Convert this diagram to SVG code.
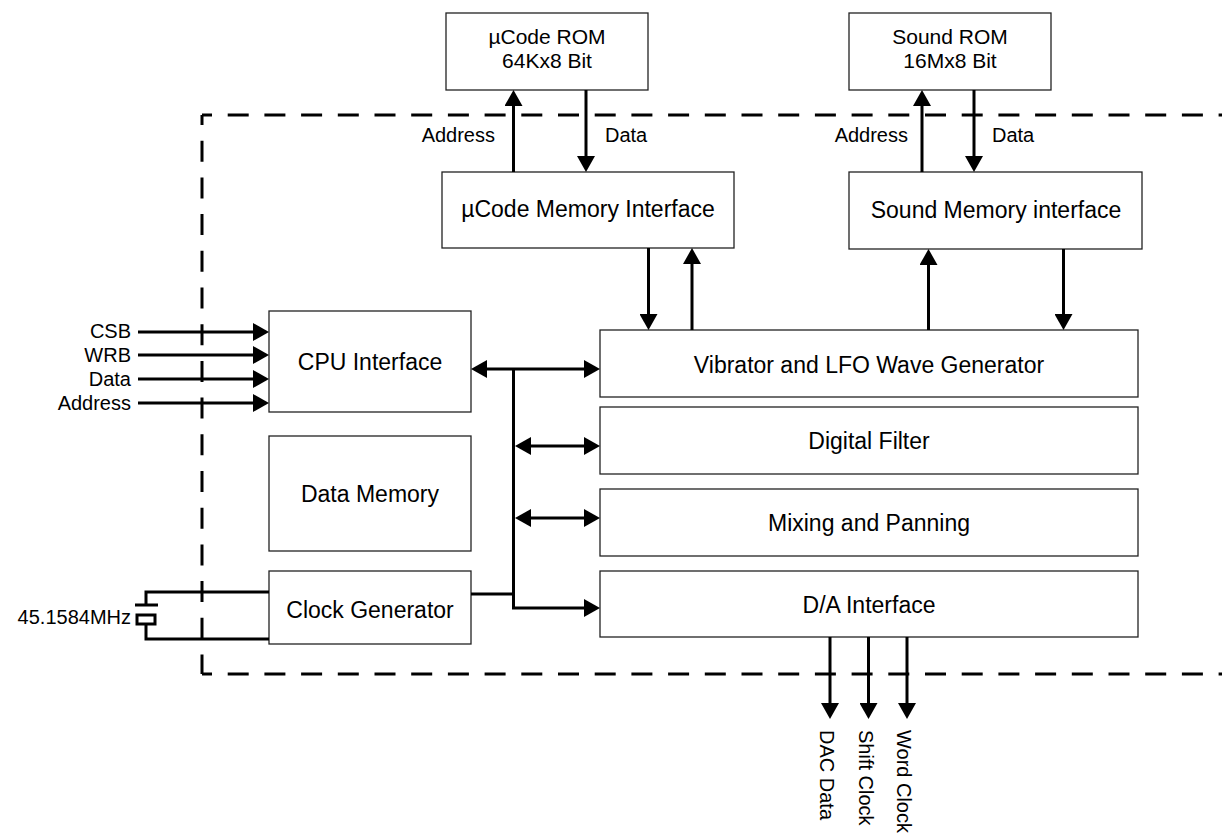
<svg xmlns="http://www.w3.org/2000/svg" width="1222" height="835" viewBox="0 0 1222 835">
<style>
.box{fill:#fff;stroke:#222;stroke-width:1.3}
.t{font-family:"Liberation Sans",Arial,sans-serif;font-size:23px;fill:#000;text-anchor:middle}
.r{font-family:"Liberation Sans",Arial,sans-serif;font-size:21px;fill:#000;text-anchor:middle}
.s{font-family:"Liberation Sans",Arial,sans-serif;font-size:20px;fill:#000}
.w{fill:none;stroke:#000;stroke-width:3}
.a{fill:none;stroke:#000;stroke-width:3;marker-end:url(#ah)}
.d{fill:none;stroke:#000;stroke-width:3;marker-end:url(#ah);marker-start:url(#ah)}
.dash{fill:none;stroke:#000;stroke-width:3;stroke-dasharray:21 15.7;stroke-dashoffset:11}
</style>
<defs>
<marker id="ah" viewBox="0 0 16 18" refX="0" refY="9" markerWidth="16" markerHeight="18" markerUnits="userSpaceOnUse" orient="auto-start-reverse">
<path d="M0,0 L16,9 L0,18 z" fill="#000"/>
</marker>
</defs>
<rect width="1222" height="835" fill="#fff"/>
<g id="boundary">
<path class="dash" d="M202,115 H1222"/>
<path class="dash" d="M202,115 V674"/>
<path class="dash" d="M202,674 H1222"/>
</g>
<g id="ucode-rom"><rect class="box" x="446" y="13" width="202" height="77"/><text class="r" x="547" y="44">µCode ROM</text><text class="r" x="547" y="68">64Kx8 Bit</text></g>
<g id="sound-rom"><rect class="box" x="849" y="13" width="202" height="77"/><text class="r" x="950" y="44">Sound ROM</text><text class="r" x="950" y="68">16Mx8 Bit</text></g>
<g id="ucode-mem-if"><rect class="box" x="442" y="172" width="292" height="76"/><text class="t" x="588" y="217">µCode Memory Interface</text></g>
<g id="sound-mem-if"><rect class="box" x="849" y="172" width="293" height="77"/><text class="t" x="996" y="218">Sound Memory interface</text></g>
<g id="cpu-if"><rect class="box" x="269" y="311" width="202" height="101"/><text class="t" x="370" y="370">CPU Interface</text></g>
<g id="data-mem"><rect class="box" x="269" y="436" width="202" height="115"/><text class="t" x="370" y="502">Data Memory</text></g>
<g id="clock-gen"><rect class="box" x="269" y="571" width="202" height="73"/><text class="t" x="370" y="618">Clock Generator</text></g>
<g id="vibrator"><rect class="box" x="600" y="330" width="538" height="67"/><text class="t" x="869" y="373">Vibrator and LFO Wave Generator</text></g>
<g id="digital-filter"><rect class="box" x="600" y="407" width="538" height="67"/><text class="t" x="869" y="449">Digital Filter</text></g>
<g id="mixing"><rect class="box" x="600" y="489" width="538" height="67"/><text class="t" x="869" y="531">Mixing and Panning</text></g>
<g id="da-if"><rect class="box" x="600" y="571" width="538" height="66"/><text class="t" x="869" y="613">D/A Interface</text></g>
<g id="crystal">
<path class="w" d="M269,592 H146 V605 M135,605 H158 M146,624 V639 H269"/>
<rect x="137" y="615" width="18" height="9" fill="#fff" stroke="#000" stroke-width="3"/>
<text class="s" x="131" y="624" text-anchor="end">45.1584MHz</text>
</g>
<g id="connectors">
<path class="a" d="M138,332 H253"/>
<path class="a" d="M138,355 H253"/>
<path class="a" d="M138,379 H253"/>
<path class="a" d="M138,403 H253"/>
<path class="d" d="M487,369 H584"/>
<path class="a" d="M513.5,369 V608 H584"/>
<path class="w" d="M471,594 H513.5"/>
<path class="d" d="M531,446 H584"/>
<path class="d" d="M531,518 H584"/>
<path class="a" d="M513.5,172 V106"/>
<path class="a" d="M586,90 V156"/>
<path class="a" d="M648.5,248 V314"/>
<path class="a" d="M692,330 V264"/>
<path class="a" d="M922,172 V106"/>
<path class="a" d="M974,90 V156"/>
<path class="a" d="M928.5,330 V265"/>
<path class="a" d="M1063.5,249 V314"/>
<path class="a" d="M830,637 V703"/>
<path class="a" d="M868.5,637 V703"/>
<path class="a" d="M907,637 V703"/>
</g>
<g id="labels">
<text class="s" x="131" y="338" text-anchor="end">CSB</text>
<text class="s" x="131" y="362" text-anchor="end">WRB</text>
<text class="s" x="131" y="386" text-anchor="end">Data</text>
<text class="s" x="131" y="410" text-anchor="end">Address</text>
<text class="s" x="495" y="142" text-anchor="end">Address</text>
<text class="s" x="605" y="142">Data</text>
<text class="s" x="908" y="142" text-anchor="end">Address</text>
<text class="s" x="992" y="142">Data</text>
<text class="s" transform="translate(820,730) rotate(90)">DAC Data</text>
<text class="s" transform="translate(858.5,730) rotate(90)">Shift Clock</text>
<text class="s" transform="translate(897,730) rotate(90)">Word Clock</text>
</g>
</svg>
